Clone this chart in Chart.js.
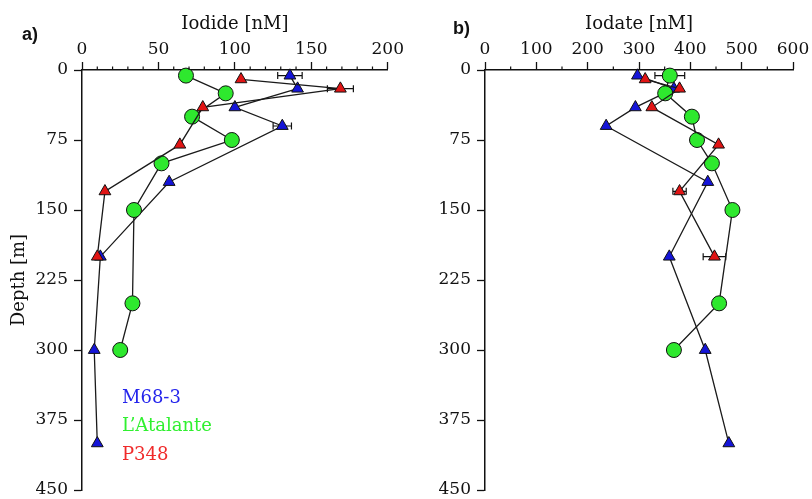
<!DOCTYPE html>
<html><head><meta charset="utf-8">
<script src="https://cdn.jsdelivr.net/npm/chart.js@4"></script>
<style>
html,body{margin:0;padding:0;background:#fff;}
#wrap{position:relative;width:812px;height:499px;overflow:hidden;background:#fff;}
canvas{position:absolute;top:0;}
#ca{left:0;} #cb{left:406px;}
.pl{position:absolute;font:bold 18px 'Liberation Sans',Arial,sans-serif;line-height:18px;color:#111;}
</style></head><body>
<div id="wrap">
<canvas id="ca" width="406" height="499"></canvas>
<canvas id="cb" width="406" height="499"></canvas>
<div class="pl" style="left:22px;top:25px">a)</div>
<div class="pl" style="left:453px;top:19px">b)</div>
</div>
<script>
// ---- data ----
const seriesNames = ['M68-3', 'L\u2019Atalante', 'P348'];
const depthM68  = [6, 20, 40, 60, 120, 200, 300, 400];
const depthAtal = [6, 25, 50, 75, 100, 150, 250, 300];
const depthP348 = [10, 20, 40, 80, 130, 200];
const iodideM68  = [136, 141, 100, 131, 57, 12, 8, 10];
const iodideAtal = [68, 94, 72, 98, 52, 34, 33, 25];
const iodideP348 = [104, 169, 79, 64, 15, 10];
const iodateM68  = [297, 368, 293, 236, 434, 359, 429, 475];
const iodateAtal = [360, 351, 403, 413, 442, 482, 456, 368];
const iodateP348 = [312, 379, 325, 455, 379, 447];
const iodideErrM68  = [8, 0, 0, 6, 0, 0, 0, 0];
const iodideErrAtal = [0, 0, 0, 0, 0, 0, 0, 0];
const iodideErrP348 = [0, 8.5, 0, 0, 0, 0];
const iodateErrM68  = [0, 0, 0, 0, 0, 0, 0, 0];
const iodateErrAtal = [29, 0, 0, 0, 0, 0, 0, 0];
const iodateErrP348 = [0, 0, 0, 0, 13, 22];
const iodideTicks = [0, 50, 100, 150, 200];
const iodateTicks = [0, 100, 200, 300, 400, 500, 600];
const depthTicks  = [0, 75, 150, 225, 300, 375, 450];

// ---- styles ----
const COL = { m68: '#1414d8', atal: '#2ee82e', p348: '#e01414' };
const TXT = { m68: '#2424ec', atal: '#30f030', p348: '#f02a2a' };
const INK = '#111';
Chart.defaults.font.family = "'DejaVu Serif', serif";
Chart.defaults.color = INK;

function pts(xs, ds) { return xs.map((x, i) => ({ x: x, y: ds[i] })); }

function makeDatasets(vM, vA, vP, eM, eA, eP) {
  const common = { showLine: true, borderColor: '#1a1a1a', borderWidth: 1.3,
    pointBorderColor: INK, pointBorderWidth: 1, clip: false, fill: false, tension: 0 };
  return [
    Object.assign({ label: seriesNames[0], data: pts(vM, depthM68), errs: eM, pointStyle: 'triangle',
      pointRadius: 6.8, pointBackgroundColor: COL.m68, order: 2 }, common),
    Object.assign({ label: seriesNames[1], data: pts(vA, depthAtal), errs: eA, pointStyle: 'circle',
      pointRadius: 7.5, pointBackgroundColor: COL.atal, order: 1 }, common),
    Object.assign({ label: seriesNames[2], data: pts(vP, depthP348), errs: eP, pointStyle: 'triangle',
      pointRadius: 6.8, pointBackgroundColor: COL.p348, order: 0 }, common)
  ];
}

const errorBars = {
  id: 'errorBars',
  beforeDatasetsDraw(chart) {
    const ctx = chart.ctx, x = chart.scales.x, y = chart.scales.y;
    ctx.save(); ctx.strokeStyle = INK; ctx.lineWidth = 1.2;
    chart.data.datasets.forEach(ds => {
      (ds.errs || []).forEach((e, i) => {
        if (!e) return;
        const p = ds.data[i];
        const x0 = x.getPixelForValue(p.x - e), x1 = x.getPixelForValue(p.x + e), yy = y.getPixelForValue(p.y);
        ctx.beginPath();
        ctx.moveTo(x0, yy); ctx.lineTo(x1, yy);
        ctx.moveTo(x0, yy - 3.5); ctx.lineTo(x0, yy + 3.5);
        ctx.moveTo(x1, yy - 3.5); ctx.lineTo(x1, yy + 3.5);
        ctx.stroke();
      });
    });
    ctx.restore();
  }
};

const minorTicks = {
  id: 'minorTicks',
  afterDraw(chart, args, opts) {
    const x = chart.scales.x, ctx = chart.ctx, top = chart.chartArea.top;
    ctx.save(); ctx.strokeStyle = INK; ctx.lineWidth = 1.2; ctx.beginPath();
    for (let v = x.min; v <= x.max + 1e-9; v += opts.step) {
      if (Math.abs(v % opts.major) < 1e-9) continue;
      const px = x.getPixelForValue(v);
      ctx.moveTo(px, top); ctx.lineTo(px, top - opts.len);
    }
    ctx.stroke(); ctx.restore();
  }
};

const textLegend = {
  id: 'textLegend',
  afterDraw(chart, args, opts) {
    if (!opts.show) return;
    const ctx = chart.ctx, a = chart.chartArea;
    ctx.save(); ctx.font = "18px 'DejaVu Serif', serif"; ctx.textBaseline = 'middle'; ctx.textAlign = 'left';
    const cols = [TXT.m68, TXT.atal, TXT.p348];
    seriesNames.forEach((t, k) => {
      ctx.fillStyle = cols[k];
      ctx.fillText(t, a.left + opts.dx, a.top + opts.dy + k * opts.gap);
    });
    ctx.restore();
  }
};

function makeChart(id, cfg) {
  return new Chart(document.getElementById(id), {
    type: 'scatter',
    data: { datasets: cfg.datasets },
    options: {
      responsive: false, animation: false, devicePixelRatio: 1,
      layout: { padding: { left: 0, top: 0, right: cfg.padRight, bottom: 9 } },
      plugins: { legend: { display: false }, tooltip: { enabled: false },
        minorTicks: { step: cfg.minor, major: cfg.major, len: 3.5 },
        textLegend: { show: cfg.legend, dx: 40, dy: 328, gap: 28.5 } },
      scales: {
        x: { type: 'linear', position: 'top', min: cfg.xmin, max: cfg.xmax,
          afterBuildTicks: s => { s.ticks = cfg.xticks.map(v => ({ value: v })); },
          afterFit: s => { s.height = 70; },
          ticks: { padding: 2, font: { size: 17 }, color: INK, maxRotation: 0, autoSkip: false },
          grid: { drawOnChartArea: false, drawTicks: true, tickLength: 8, tickWidth: 1.3, tickColor: INK },
          border: { display: true, color: INK, width: 1.5 },
          title: { display: true, text: cfg.xtitle, color: INK, font: { size: 18 }, padding: { top: 14, bottom: 0 } }
        },
        y: { type: 'linear', position: 'left', reverse: true, min: 0, max: 450,
          afterBuildTicks: s => { s.ticks = depthTicks.map(v => ({ value: v })); },
          afterFit: s => { s.width = cfg.yw; },
          ticks: { padding: 6, font: { size: 17, lineHeight: 0.2 }, color: INK, autoSkip: false },
          grid: { drawOnChartArea: false, drawTicks: true, tickLength: 8, tickWidth: 1.3, tickColor: INK },
          border: { display: true, color: INK, width: 1.5 },
          title: { display: cfg.ytitle, text: 'Depth [m]', color: INK, font: { size: 18 }, padding: { top: 9, bottom: 0 } }
        }
      }
    },
    plugins: [errorBars, minorTicks, textLegend]
  });
}

makeChart('ca', {
  datasets: makeDatasets(iodideM68, iodideAtal, iodideP348, iodideErrM68, iodideErrAtal, iodideErrP348),
  xmin: 0, xmax: 200, xticks: iodideTicks, minor: 10, major: 50, xtitle: 'Iodide [nM]',
  yw: 82, padRight: 17, ytitle: true, legend: true
});
makeChart('cb', {
  datasets: makeDatasets(iodateM68, iodateAtal, iodateP348, iodateErrM68, iodateErrAtal, iodateErrP348),
  xmin: 0, xmax: 600, xticks: iodateTicks, minor: 50, major: 100, xtitle: 'Iodate [nM]',
  yw: 79, padRight: 19, ytitle: false, legend: false
});
</script>
</body></html>
